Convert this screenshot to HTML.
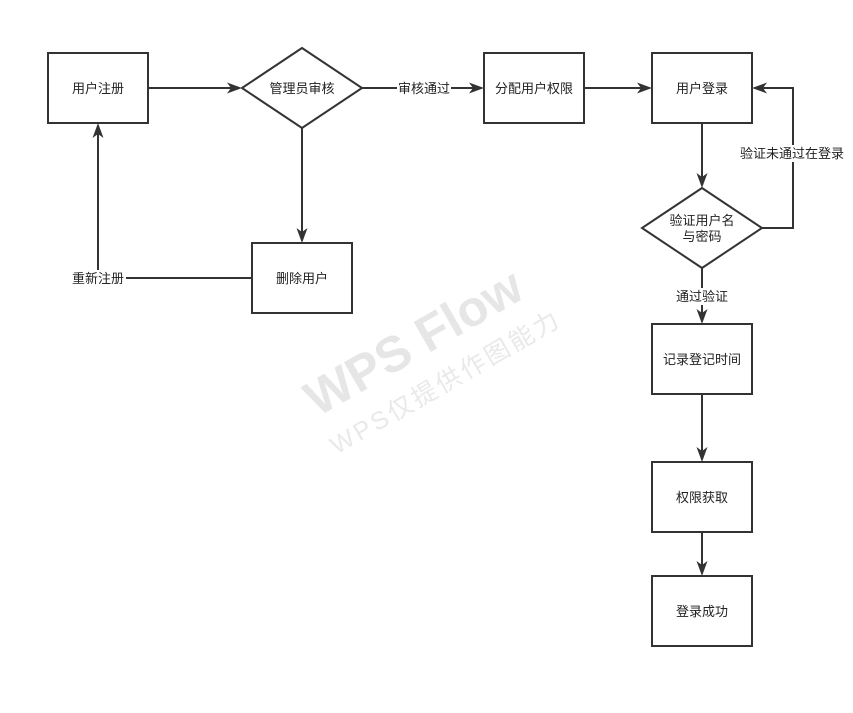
<!DOCTYPE html>
<html><head><meta charset="utf-8"><style>
html,body{margin:0;padding:0;background:#fff;}
svg text{font-family:"Liberation Sans","Noto Sans CJK SC",sans-serif;font-size:13px;fill:#222;}
</style></head><body>
<svg width="853" height="708" viewBox="0 0 853 708" xmlns="http://www.w3.org/2000/svg">
<defs>
<path id="ah" d="M0,0 L-15,-5.5 L-11,0 L-15,5.5 Z" fill="#333"/>
</defs>
<g transform="translate(422,357) rotate(-30)">
<text x="0" y="0" text-anchor="middle" style="font-size:50px;font-weight:bold;fill:#e6e6e6">WPS Flow</text>
<text x="8" y="42" text-anchor="middle" style="font-size:25px;fill:#e9e9e9;letter-spacing:3px">WPS仅提供作图能力</text>
</g>
<g fill="none" stroke="#333" stroke-width="2">
<rect x="48" y="53" width="100" height="70" fill="#fff"/>
<polygon points="302,48 362,88 302,128 242,88" fill="#fff"/>
<rect x="484" y="53" width="100" height="70" fill="#fff"/>
<rect x="652" y="53" width="100" height="70" fill="#fff"/>
<polygon points="702,188 762,228 702,268 642,228" fill="#fff"/>
<rect x="252" y="243" width="100" height="70" fill="#fff"/>
<rect x="652" y="324" width="100" height="70" fill="#fff"/>
<rect x="652" y="462" width="100" height="70" fill="#fff"/>
<rect x="652" y="576" width="100" height="70" fill="#fff"/>
<path d="M148,88 H232"/>
<path d="M362,88 H474"/>
<path d="M584,88 H642"/>
<path d="M302,128 V232"/>
<path d="M252,278 H98 V134"/>
<path d="M702,123 V178"/>
<path d="M762,228 H793 V88 H762"/>
<path d="M702,268 V314"/>
<path d="M702,394 V452"/>
<path d="M702,532 V566"/>
</g>
<use href="#ah" transform="translate(242,88)"/>
<use href="#ah" transform="translate(484,88)"/>
<use href="#ah" transform="translate(652,88)"/>
<use href="#ah" transform="translate(302,243) rotate(90)"/>
<use href="#ah" transform="translate(98,123) rotate(-90)"/>
<use href="#ah" transform="translate(702,188) rotate(90)"/>
<use href="#ah" transform="translate(752,88) rotate(180)"/>
<use href="#ah" transform="translate(702,324) rotate(90)"/>
<use href="#ah" transform="translate(702,462) rotate(90)"/>
<use href="#ah" transform="translate(702,576) rotate(90)"/>
<rect x="397" y="80" width="54" height="17" fill="#fff"/>
<rect x="72" y="270" width="54" height="17" fill="#fff"/>
<rect x="740" y="145" width="106" height="17" fill="#fff"/>
<rect x="674" y="288" width="56" height="17" fill="#fff"/>
<g text-anchor="middle">
<text x="98" y="93">用户注册</text>
<text x="302" y="93">管理员审核</text>
<text x="424" y="93">审核通过</text>
<text x="534" y="93">分配用户权限</text>
<text x="702" y="93">用户登录</text>
<text x="792" y="158">验证未通过在登录</text>
<text x="702" y="225">验证用户名</text>
<text x="702" y="241">与密码</text>
<text x="98" y="283">重新注册</text>
<text x="302" y="283">删除用户</text>
<text x="702" y="301">通过验证</text>
<text x="702" y="364">记录登记时间</text>
<text x="702" y="502">权限获取</text>
<text x="702" y="616">登录成功</text>
</g>
</svg>
</body></html>
